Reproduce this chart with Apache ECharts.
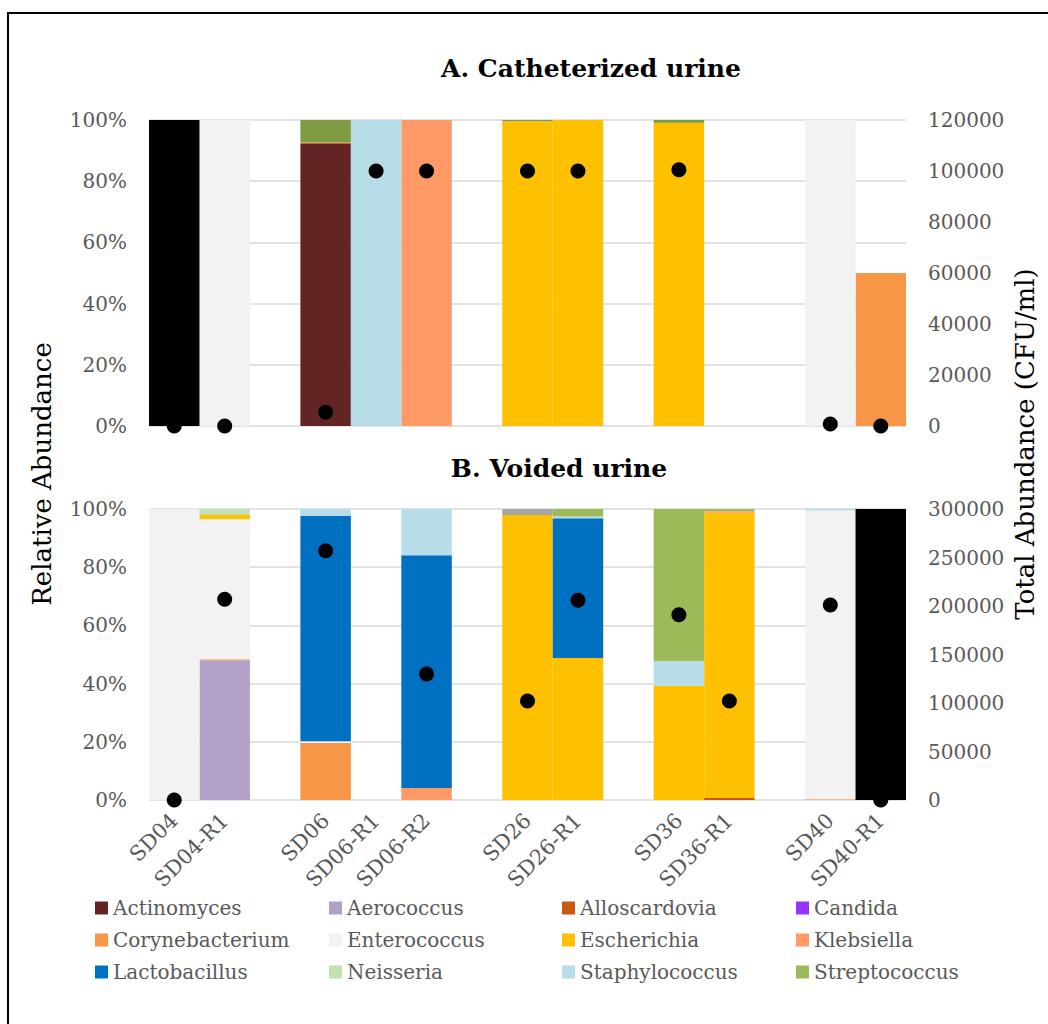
<!DOCTYPE html>
<html>
<head>
<meta charset="utf-8">
<script src="https://cdn.jsdelivr.net/npm/echarts@6/dist/echarts.min.js"></script>
<style>html,body{margin:0;padding:0;background:#fff}#chart{width:1048px;height:1024px}</style>
</head>
<body>
<div id="chart"></div>
<script>
// ---------- DATA ----------
const categories = ['SD04','SD04-R1','','SD06','SD06-R1','SD06-R2','','SD26','SD26-R1','','SD36','SD36-R1','','SD40','SD40-R1'];

// Panel A: catheterized urine, relative abundance (%)
const cathActinomyces    = [0,0,null,92.4,0,0,null,0,0,null,0,0,null,0,0];
const cathAerococcus     = [0,0,null,0,0,0,null,0,0,null,0,0,null,0,0];
const cathAlloscardovia  = [0,0,null,0,0,0,null,0,0,null,0,0,null,0,0];
const cathCandida        = [0,0,null,0,0,0,null,0,0,null,0,0,null,0,0];
const cathCorynebacterium= [0,0,null,0.3,0,0,null,0,0,null,0,0,null,0,50];
const cathEnterococcus   = [0,100,null,0,0,0,null,0,0,null,0,0,null,100,0];
const cathEscherichia    = [0,0,null,0,0,0,null,99.6,100,null,99.1,0,null,0,0];
const cathKlebsiella     = [0,0,null,0,0,100,null,0,0,null,0,0,null,0,0];
const cathLactobacillus  = [0,0,null,0,0,0,null,0,0,null,0,0,null,0,0];
const cathNeisseria      = [0,0,null,0,0,0,null,0,0,null,0,0,null,0,0];
const cathStaphylococcus = [0,0,null,0,100,0,null,0,0,null,0,0,null,0,0];
const cathStreptococcus  = [0,0,null,7.3,0,0,null,0.4,0,null,0.9,0,null,0,0];
const cathOther          = [0,0,null,0,0,0,null,0,0,null,0,0,null,0,0];
const cathUnassigned     = [100,0,null,0,0,0,null,0,0,null,0,0,null,0,0];
// Panel A: total abundance (CFU/ml)
const cathTotal = [0,0,null,5400,100000,100000,null,100000,100000,null,100500,null,null,800,0];

// Panel B: voided urine, relative abundance (%)
const voidActinomyces    = [0,0,null,0,0,0,null,0,0,null,0,0,null,0,0];
const voidAerococcus     = [0,48.0,null,0,0,0,null,0,0,null,0,0,null,0,0];
const voidAlloscardovia  = [0,0,null,0,0,0,null,0,0,null,0,0.7,null,0,0];
const voidCandida        = [0,0,null,0,0,0,null,0,0,null,0,0,null,0,0];
const voidCorynebacterium= [0,0.4,null,19.6,0,0,null,0,0,null,0,0,null,0.3,0];
const voidEnterococcus   = [100,48.1,null,0.6,0,0,null,0,0,null,0,0,null,99.2,0];
const voidEscherichia    = [0,1.4,null,0,0,0,null,97.9,48.8,null,39.2,98.0,null,0,0];
const voidKlebsiella     = [0,0,null,0,0,4.1,null,0,0,null,0,0.5,null,0,0];
const voidLactobacillus  = [0,0,null,77.5,0,80.0,null,0,48.0,null,0,0,null,0,0];
const voidNeisseria      = [0,2.1,null,0,0,0,null,0,0,null,0,0,null,0,0];
const voidStaphylococcus = [0,0,null,2.3,0,15.9,null,0,0.6,null,8.6,0,null,0.5,0];
const voidStreptococcus  = [0,0,null,0,0,0,null,0,2.6,null,52.2,0.8,null,0,0];
const voidOther          = [0,0,null,0,0,0,null,2.1,0,null,0,0,null,0,0];
const voidUnassigned     = [0,0,null,0,0,0,null,0,0,null,0,0,null,0,100];
// Panel B: total abundance (CFU/ml)
const voidTotal = [0,207000,null,257000,null,130000,null,102000,206000,null,191000,102000,null,201000,0];

const genera = ['Actinomyces','Aerococcus','Alloscardovia','Candida','Corynebacterium','Enterococcus','Escherichia','Klebsiella','Lactobacillus','Neisseria','Staphylococcus','Streptococcus','Other','Unassigned'];
const cathData = [cathActinomyces,cathAerococcus,cathAlloscardovia,cathCandida,cathCorynebacterium,cathEnterococcus,cathEscherichia,cathKlebsiella,cathLactobacillus,cathNeisseria,cathStaphylococcus,cathStreptococcus,cathOther,cathUnassigned];
const voidData = [voidActinomyces,voidAerococcus,voidAlloscardovia,voidCandida,voidCorynebacterium,voidEnterococcus,voidEscherichia,voidKlebsiella,voidLactobacillus,voidNeisseria,voidStaphylococcus,voidStreptococcus,voidOther,voidUnassigned];

// ---------- STYLE ----------
const colors = {
  Actinomyces:'#632523', Aerococcus:'#B2A1C7', Alloscardovia:'#C55A11', Candida:'#9933FF',
  Corynebacterium:'#F79646', Enterococcus:'#F2F2F2', Escherichia:'#FFC000', Klebsiella:'#FF9966',
  Lactobacillus:'#0070C0', Neisseria:'#C4E0B2', Staphylococcus:'#B7DDE8', Streptococcus:'#9BBB59',
  Other:'#A5A5A5', Unassigned:'#000000'
};
const cathColorOverride = { Streptococcus:'#7F9B41' };
const FONT = '"DejaVu Serif", serif';
const GRAY = '#595959';
const GRID_LEFT = 149, GRID_RIGHT = 1048 - 906;

const series = [];
genera.forEach((g, i) => {
  series.push({
    name: g, type: 'bar', stack: 'void', xAxisIndex: 1, yAxisIndex: 2,
    barCategoryGap: '0%', barGap: '0%',
    itemStyle: { color: colors[g] },
    data: voidData[i]
  });
});
genera.forEach((g, i) => {
  series.push({
    name: g, type: 'bar', stack: 'cath', xAxisIndex: 0, yAxisIndex: 0,
    barCategoryGap: '0%', barGap: '0%',
    itemStyle: { color: cathColorOverride[g] || colors[g] },
    data: cathData[i]
  });
});
series.push({ name: 'Total A', type: 'scatter', xAxisIndex: 0, yAxisIndex: 1, symbolSize: 15, clip: false, z: 10,
  itemStyle: { color: '#000', opacity: 1 }, data: cathTotal });
series.push({ name: 'Total B', type: 'scatter', xAxisIndex: 1, yAxisIndex: 3, symbolSize: 15, clip: false, z: 10,
  itemStyle: { color: '#000', opacity: 1 }, data: voidTotal });

const legendCols = [
  { left: 95,  data: ['Actinomyces','Corynebacterium','Lactobacillus'] },
  { left: 329, data: ['Aerococcus','Enterococcus','Neisseria'] },
  { left: 562, data: ['Alloscardovia','Escherichia','Staphylococcus'] },
  { left: 796, data: ['Candida','Klebsiella','Streptococcus'] }
];

const pctAxis = (gridIndex) => ({
  type: 'value', gridIndex, min: 0, max: 100, interval: 20, position: 'left',
  axisLabel: { formatter: '{value}%', color: GRAY, fontFamily: FONT, fontSize: 20, margin: 22 },
  axisLine: { show: false }, axisTick: { show: false },
  splitLine: { show: true, lineStyle: { color: '#D9D9D9', width: 1.5 } }
});
const totAxis = (gridIndex, max, interval) => ({
  type: 'value', gridIndex, min: 0, max, interval, position: 'right',
  axisLabel: { formatter: (v) => String(v), color: GRAY, fontFamily: FONT, fontSize: 20, margin: 22 },
  axisLine: { show: false }, axisTick: { show: false }, splitLine: { show: false }
});

const option = {
  animation: false,
  backgroundColor: '#fff',
  grid: [
    { left: GRID_LEFT, right: GRID_RIGHT, top: 120, height: 306 },
    { left: GRID_LEFT, right: GRID_RIGHT, top: 509, height: 291 }
  ],
  xAxis: [
    { type: 'category', gridIndex: 0, data: categories, axisLabel: { show: false }, axisTick: { show: false }, axisLine: { show: false } },
    { type: 'category', gridIndex: 1, data: categories, axisTick: { show: false }, axisLine: { show: false },
      axisLabel: { rotate: 45, interval: 0, margin: 17, color: GRAY, fontFamily: FONT, fontSize: 21 } }
  ],
  yAxis: [ pctAxis(0), totAxis(0, 120000, 20000), pctAxis(1), totAxis(1, 300000, 50000) ],
  legend: legendCols.map(c => ({
    orient: 'vertical', left: c.left, top: 897, padding: 0, itemGap: 10, itemWidth: 13, itemHeight: 13,
    icon: 'rect', selectedMode: false, data: c.data,
    textStyle: { color: GRAY, fontFamily: FONT, fontSize: 20, lineHeight: 22, padding: [0, 0, 0, 0] }
  })),
  graphic: [
    { type: 'rect', shape: { x: 8, y: 13, width: 1100, height: 1100 }, style: { fill: 'none', stroke: '#000', lineWidth: 2 }, silent: true },
    { type: 'text', x: 591, y: 68, style: { text: 'A. Catheterized urine', font: 'bold 25px ' + FONT, fill: '#000', align: 'center', verticalAlign: 'middle', textAlign: 'center', textVerticalAlign: 'middle' } },
    { type: 'text', x: 559, y: 468, style: { text: 'B. Voided urine', font: 'bold 25px ' + FONT, fill: '#000', align: 'center', verticalAlign: 'middle', textAlign: 'center', textVerticalAlign: 'middle' } },
    { type: 'text', x: 42, y: 474, rotation: Math.PI / 2, style: { text: 'Relative Abundance', font: '26px ' + FONT, fill: '#000', align: 'center', verticalAlign: 'middle', textAlign: 'center', textVerticalAlign: 'middle' } },
    { type: 'text', x: 1025, y: 444, rotation: Math.PI / 2, style: { text: 'Total Abundance (CFU/ml)', font: '26px ' + FONT, fill: '#000', align: 'center', verticalAlign: 'middle', textAlign: 'center', textVerticalAlign: 'middle' } }
  ],
  series
};

const chart = echarts.init(document.getElementById('chart'), null, { renderer: 'svg' });
chart.setOption(option);
</script>
</body>
</html>
